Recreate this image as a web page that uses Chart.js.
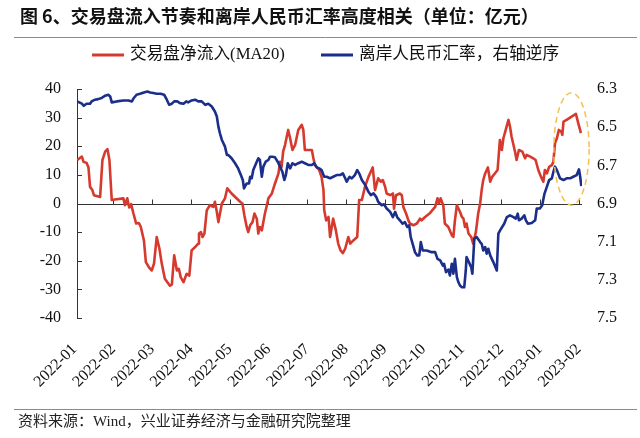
<!DOCTYPE html>
<html><head><meta charset="utf-8">
<script src="https://cdn.jsdelivr.net/npm/chart.js@4.4.1/dist/chart.umd.min.js"></script>
<style>html,body{margin:0;padding:0;background:#fff;}#wrap{width:640px;height:438px;}</style>
</head><body><div id="wrap"><canvas id="c" width="640" height="438"></canvas></div>
<script>
const TITLE = '图 6、交易盘流入节奏和离岸人民币汇率高度相关（单位：亿元）';
const SOURCE = '资料来源：Wind，兴业证券经济与金融研究院整理';
const monthLabels = ['2022-01','2022-02','2022-03','2022-04','2022-05','2022-06','2022-07','2022-08','2022-09','2022-10','2022-11','2022-12','2023-01','2023-02'];
const leftTicks = [-40,-30,-20,-10,0,10,20,30,40];
const rightTicks = [6.3,6.5,6.7,6.9,7.1,7.3,7.5];
const flowLabel = '交易盘净流入(MA20)';
const fxLabel = '离岸人民币汇率，右轴逆序';

// x in months since 2022-01 (0 = 2022-01 tick)
const flowX = [0.07,0.19,0.23,0.31,0.36,0.40,0.46,0.50,0.66,0.72,
0.79,0.85,0.90,0.96,1.04,1.26,1.30,1.36,1.41,1.46,
1.52,1.59,1.66,1.71,1.79,1.84,1.93,1.99,2.05,2.12,
2.19,2.25,2.33,2.46,2.51,2.57,2.64,2.69,2.74,2.81,
2.89,2.96,3.02,3.11,3.19,3.21,3.26,3.30,3.35,3.41,
3.49,3.58,3.62,3.67,3.71,3.80,3.88,3.94,4.05,4.27,
4.33,4.38,4.44,4.48,4.53,4.59,4.64,4.70,4.74,4.78,
4.83,4.87,4.91,4.96,5.00,5.09,5.17,5.26,5.30,5.34,
5.38,5.43,5.51,5.56,5.62,5.69,5.77,5.86,5.90,5.94,
6.03,6.12,6.16,6.20,6.31,6.37,6.42,6.44,6.49,6.55,
6.59,6.67,6.74,6.80,6.86,6.92,6.98,7.06,7.11,7.19,
7.29,7.34,7.41,7.49,7.58,7.64,7.69,7.75,7.83,7.90,
7.95,8.01,8.05,8.14,8.21,8.24,8.29,8.39,8.44,8.48,
8.55,8.61,8.65,8.74,8.83,8.91,8.95,9.04,9.17,9.30,
9.36,9.40,9.44,9.51,9.55,9.64,9.73,9.77,9.81,9.86,
9.94,9.99,10.03,10.07,10.11,10.16,10.23,10.28,10.35,10.41,
10.46,10.50,10.54,10.59,10.66,10.72,10.77,10.84,10.91,10.97,
11.02,11.06,11.12,11.19,11.23,11.27,11.36,11.40,11.46,11.55,
11.62,11.66,11.75,11.83,11.89,11.96,12.03,12.09,12.13,12.18,
12.24,12.31,12.35,12.39,12.44,12.49,12.55,12.58,12.61,12.69,
12.80,12.93,12.99,13.06];
const flowY = [15.2,16.4,14.6,14.2,12.6,5.8,4.7,2.9,2.3,15.2,
18.1,19.0,15.2,1.2,1.4,1.8,-0.6,1.8,-1.4,-0.2,
-3.5,-7.0,-6.8,-8.2,-12.9,-20.5,-22.5,-23.4,-21.0,-11.7,
-15.8,-21.0,-26.3,-28.7,-28.3,-18.1,-23.4,-22.8,-25.8,-27.5,
-24.6,-25.2,-16.4,-15.2,-14.0,-10.5,-10.0,-11.7,-10.5,-2.4,
-0.6,-1.2,0.6,-2.9,-6.5,0.0,1.8,5.3,3.5,0.6,
0.0,-4.1,-8.2,-10.0,-7.6,-6.5,-3.5,-5.3,-10.5,-8.2,
-9.4,-6.5,-3.5,-0.6,1.8,3.5,7.0,10.5,14.6,12.8,
18.1,20.5,25.7,22.8,18.7,20.5,25.7,27.5,25.7,18.7,
18.7,18.7,15.8,13.4,11.7,9.3,4.7,-2.4,-5.9,-4.7,
-11.7,-5.3,-9.4,-14.0,-16.4,-17.3,-15.8,-11.7,-14.0,-12.9,
-11.7,1.2,1.2,5.8,9.3,11.1,12.6,4.7,8.8,7.6,
8.2,5.8,3.5,2.9,3.5,-1.8,2.9,3.5,2.9,-1.2,
-3.5,-5.9,-7.0,-7.6,-7.0,-5.3,-5.9,-4.7,-3.3,-1.2,
1.8,0.0,1.8,-0.6,-7.0,-8.2,-11.1,-11.7,-5.9,-0.6,
-2.9,-4.7,-5.3,-8.2,-7.0,-10.5,-11.7,-14.0,-10.0,-3.5,
0.0,4.7,8.2,10.5,12.6,7.6,9.3,10.5,11.7,22.2,
18.7,22.8,25.7,29.2,26.9,23.4,18.1,15.2,18.7,18.1,
15.8,17.0,16.4,15.8,15.2,11.7,9.3,7.6,11.7,10.5,
12.8,13.4,14.6,21.0,22.8,25.7,25.1,24.0,28.6,29.2,
30.2,31.3,28.1,24.6];

const fxX = [0.07,0.19,0.24,0.31,0.40,0.44,0.53,0.61,0.70,0.79,
0.87,0.92,0.96,1.09,1.26,1.39,1.48,1.53,1.60,1.69,
1.79,1.88,1.95,2.03,2.12,2.22,2.31,2.38,2.44,2.51,
2.57,2.65,2.72,2.81,2.88,2.93,3.02,3.11,3.19,3.28,
3.37,3.45,3.54,3.62,3.67,3.71,3.75,3.80,3.84,3.88,
3.93,3.97,4.05,4.14,4.22,4.29,4.34,4.37,4.44,4.50,
4.53,4.57,4.61,4.70,4.74,4.78,4.83,4.87,4.93,5.00,
5.04,5.10,5.17,5.24,5.30,5.36,5.41,5.45,5.50,5.56,
5.62,5.69,5.77,5.86,5.94,6.03,6.12,6.18,6.25,6.31,
6.37,6.44,6.50,6.59,6.67,6.76,6.85,6.92,6.98,7.02,
7.09,7.15,7.23,7.29,7.34,7.41,7.47,7.52,7.58,7.64,
7.71,7.78,7.83,7.92,7.98,8.05,8.14,8.21,8.27,8.32,
8.39,8.46,8.52,8.58,8.63,8.67,8.72,8.78,8.84,8.89,
8.93,8.98,9.08,9.21,9.30,9.36,9.43,9.50,9.53,9.58,
9.64,9.68,9.73,9.77,9.81,9.86,9.90,9.94,9.99,10.05,
10.09,10.11,10.17,10.23,10.26,10.31,10.37,10.46,10.50,10.54,
10.59,10.63,10.67,10.72,10.80,10.89,10.93,11.00,11.08,11.15,
11.23,11.32,11.38,11.43,11.46,11.53,11.60,11.64,11.69,11.79,
11.88,11.92,12.00,12.06,12.12,12.18,12.24,12.31,12.35,12.39,
12.44,12.52,12.61,12.69,12.78,12.86,12.95,13.01,13.04,13.07];
const fxY = [6.365,6.377,6.388,6.377,6.377,6.365,6.356,6.353,6.347,6.335,
6.330,6.339,6.370,6.365,6.360,6.360,6.365,6.347,6.330,6.325,
6.318,6.313,6.318,6.321,6.325,6.325,6.330,6.356,6.383,6.377,
6.365,6.365,6.374,6.377,6.365,6.370,6.360,6.356,6.365,6.365,
6.383,6.377,6.392,6.418,6.444,6.497,6.532,6.567,6.584,6.602,
6.646,6.646,6.663,6.689,6.716,6.751,6.777,6.821,6.795,6.795,
6.760,6.768,6.725,6.681,6.663,6.672,6.760,6.707,6.681,6.672,
6.655,6.655,6.658,6.681,6.707,6.734,6.777,6.751,6.689,6.716,
6.689,6.698,6.689,6.681,6.689,6.698,6.698,6.689,6.711,6.716,
6.725,6.760,6.760,6.768,6.760,6.751,6.751,6.742,6.768,6.786,
6.760,6.768,6.751,6.725,6.742,6.777,6.795,6.813,6.839,6.856,
6.847,6.865,6.891,6.909,6.904,6.926,6.944,6.971,6.944,6.971,
6.988,7.006,6.997,7.023,7.014,7.076,7.111,7.155,7.172,7.172,
7.102,7.146,7.146,7.155,7.155,7.190,7.198,7.225,7.216,7.260,
7.246,7.277,7.216,7.268,7.190,7.286,7.313,7.330,7.339,7.339,
7.251,7.181,7.207,7.234,7.268,7.084,7.076,7.102,7.111,7.146,
7.128,7.163,7.137,7.172,7.207,7.251,7.058,7.032,7.006,6.971,
6.962,6.971,6.979,6.953,6.988,6.979,6.962,6.988,7.006,7.002,
6.988,6.926,6.926,6.909,6.848,6.813,6.777,6.768,6.734,6.707,
6.725,6.768,6.777,6.768,6.768,6.760,6.751,6.721,6.760,6.809];

// highlighted region (dashed ellipse), in data units
const highlightX = [12.36, 13.27];
const highlightY = [38.7, -0.6];

const RED = '#D63A2E', BLUE = '#1B2E8A';
const SERIF = '"Liberation Serif", "Noto Sans CJK SC", serif';
const tickFont = {family: SERIF, size: 16};

const decor = {
  id: 'decor',
  beforeDraw(chart) {
    const c = chart.ctx; c.save(); c.fillStyle = '#fff'; c.fillRect(0, 0, chart.width, chart.height); c.restore();
  },
  beforeDatasetsDraw(chart) {
    const c = chart.ctx, a = chart.chartArea, x = chart.scales.x, y = chart.scales.y;
    c.save(); c.strokeStyle = '#333'; c.lineWidth = 1; c.beginPath();
    const y0 = Math.round(y.getPixelForValue(0)) + 0.5;
    c.moveTo(a.left, y0); c.lineTo(a.right, y0);
    monthLabels.forEach((_, i) => {
      const px = Math.round(x.getPixelForValue(i)) + 0.5;
      if (px < a.left + 2 || px > a.right + 1) return;
      c.moveTo(px, y0); c.lineTo(px, y0 - 5);
    });
    leftTicks.forEach(v => {
      const py = Math.round(y.getPixelForValue(v)) + 0.5;
      c.moveTo(a.left, py); c.lineTo(a.left + 5, py);
    });
    c.stroke(); c.restore();
  },
  afterDatasetsDraw(chart) {
    const c = chart.ctx, x = chart.scales.x, y = chart.scales.y;
    const x0 = x.getPixelForValue(highlightX[0]), x1 = x.getPixelForValue(highlightX[1]);
    const y0 = y.getPixelForValue(highlightY[0]), y1 = y.getPixelForValue(highlightY[1]);
    c.save(); c.strokeStyle = '#F2C14E'; c.lineWidth = 1.5; c.setLineDash([6, 4]);
    c.beginPath(); c.ellipse((x0 + x1) / 2, (y0 + y1) / 2, (x1 - x0) / 2, (y1 - y0) / 2, 0, 0, Math.PI * 2); c.stroke();
    c.restore();
  },
  afterDraw(chart) {
    const c = chart.ctx;
    c.save();
    // title
    c.fillStyle = '#111'; c.textBaseline = 'middle'; c.textAlign = 'left';
    c.font = 'bold 18px "Noto Sans CJK SC", sans-serif';
    c.fillText(TITLE, 20, 16);
    // rules
    c.strokeStyle = '#8a8a8a'; c.lineWidth = 1;
    c.beginPath(); c.moveTo(14, 37.5); c.lineTo(637, 37.5); c.moveTo(14, 409.5); c.lineTo(637, 409.5); c.stroke();
    // legend
    c.font = '16.7px ' + SERIF; c.fillStyle = '#111';
    const ds = chart.data.datasets;
    const items = [{x: 92, ds: ds[0]}, {x: 321, ds: ds[1]}];
    items.forEach(it => {
      c.strokeStyle = it.ds.borderColor; c.lineWidth = 3;
      c.beginPath(); c.moveTo(it.x, 55); c.lineTo(it.x + 32, 55); c.stroke();
      c.fillText(it.ds.label, it.x + 38, 55);
    });
    // footer
    c.font = '15px ' + SERIF; c.fillStyle = '#222';
    c.fillText(SOURCE, 18, 422);
    c.restore();
  }
};

new Chart(document.getElementById('c'), {
  type: 'line',
  data: {
    datasets: [
      {label: flowLabel, data: flowX.map((v, i) => ({x: v, y: flowY[i]})), borderColor: RED, backgroundColor: RED, yAxisID: 'y', order: 1},
      {label: fxLabel, data: fxX.map((v, i) => ({x: v, y: fxY[i]})), borderColor: BLUE, backgroundColor: BLUE, yAxisID: 'y1', order: 0}
    ]
  },
  options: {
    responsive: false, animation: false, devicePixelRatio: 1,
    layout: {padding: {top: 89, left: 0, right: 0, bottom: 0}},
    elements: {point: {radius: 0}, line: {tension: 0, borderWidth: 2.6, borderJoinStyle: 'round'}},
    plugins: {legend: {display: false}, title: {display: false}, tooltip: {enabled: false}},
    scales: {
      x: {
        type: 'linear', min: 0.064, max: 13.087, position: 'bottom',
        afterBuildTicks: s => { s.ticks = monthLabels.map((_, i) => ({value: i})); },
        afterFit: s => { s.height = 438 - 318; },
        ticks: {autoSkip: false, maxRotation: 45, minRotation: 45, padding: 22, font: tickFont, color: '#111',
          callback: v => monthLabels[v]},
        grid: {display: false, drawTicks: false}, border: {display: false}
      },
      y: {
        position: 'left', min: -40, max: 40,
        afterBuildTicks: s => { s.ticks = leftTicks.map(v => ({value: v})); },
        afterFit: s => { s.width = 77; },
        ticks: {padding: 16, font: tickFont, color: '#111'},
        grid: {display: false, drawTicks: false}, border: {display: true, color: '#333', width: 1}
      },
      y1: {
        position: 'right', min: 6.3, max: 7.5, reverse: true,
        afterBuildTicks: s => { s.ticks = rightTicks.map(v => ({value: v})); },
        afterFit: s => { s.width = 640 - 582; },
        ticks: {padding: 15, font: tickFont, color: '#111', callback: v => Number(v).toFixed(1)},
        grid: {display: false, drawTicks: false}, border: {display: false}
      }
    }
  },
  plugins: [decor]
});
</script></body></html>
